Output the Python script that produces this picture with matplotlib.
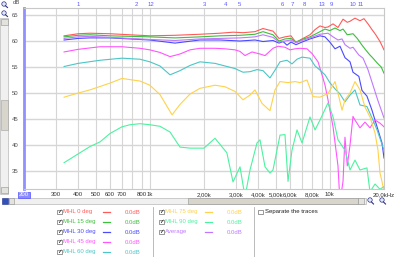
import matplotlib.pyplot as plt
from matplotlib.patches import Rectangle, Circle
from matplotlib.transforms import blended_transform_factory

# ---- measured traces (frequency in Hz, level in dB) ----
f_0 = [334, 400, 465, 600, 776, 1000, 1380, 1900, 2454, 2900, 3300, 3840, 4254, 4834, 5220, 5636,
       6086, 6300, 6488, 7008, 7760, 8280, 8820, 9400, 9770, 10420, 11100, 11840, 12500, 12950,
       13800, 14710, 15480, 16300, 17150, 18000, 19000, 20000]
db_0 = [61.0, 61.4, 61.5, 61.4, 61.2, 61.0, 61.1, 61.3, 61.5, 61.7, 61.6, 61.8, 62.4, 61.9, 60.5, 60.8,
        61.0, 60.3, 59.7, 60.4, 61.2, 62.2, 62.9, 62.6, 62.7, 63.3, 62.6, 64.2, 63.6, 63.8,
        64.4, 63.9, 64.3, 63.3, 62.2, 61.2, 59.9, 58.3]

f_15 = [334, 400, 465, 600, 776, 1000, 1380, 1900, 2454, 3170, 3840, 4254, 4834, 5220, 5636, 6086,
        6488, 7008, 7760, 8820, 9400, 10000, 10690, 11390, 11840, 12500, 13450, 14200, 15100, 15900,
        16720, 17370, 18300, 19300, 20000]
db_15 = [60.8, 61.1, 61.2, 61.0, 60.9, 60.8, 60.6, 60.8, 61.0, 61.1, 61.3, 61.8, 61.2, 60.0, 60.4, 60.5,
         59.8, 60.3, 60.8, 61.8, 62.3, 62.0, 62.5, 62.0, 62.3, 61.2, 61.4, 60.5, 59.2, 58.2,
         57.3, 56.7, 55.8, 55.0, 53.8]

f_30 = [334, 400, 465, 600, 776, 1000, 1380, 1900, 2454, 3170, 3840, 4254, 4834, 5220, 5500, 5782,
        6086, 6488, 7008, 7760, 8820, 9400, 10000, 10690, 11390, 12140, 12950, 13450, 14500, 15090,
        16080, 17150, 18300, 19490, 20000]
db_30 = [60.2, 60.5, 60.6, 60.6, 60.4, 60.2, 59.6, 60.2, 60.2, 60.0, 60.2, 59.9, 60.1, 59.6, 59.9, 59.2,
         59.8, 59.3, 59.8, 60.4, 61.0, 60.8, 59.8, 58.5, 59.0, 56.8, 56.0, 54.0, 53.2, 50.5,
         49.4, 46.7, 43.5, 40.4, 37.5]

f_45 = [334, 400, 529, 700, 882, 1000, 1139, 1295, 1471, 1672, 1900, 2302, 2617, 2974, 3170, 3380,
        3696, 4094, 4366, 4834, 5154, 5636, 6008, 6406, 6830, 7470, 7960, 8600, 9050, 9404,
        9770, 10420, 11100, 11390, 11840, 12140, 12500, 12950, 13450, 13800, 14710, 15680, 16720,
        17830, 19000, 20000]
db_45 = [57.9, 58.4, 58.9, 58.9, 58.6, 58.3, 57.8, 57.0, 57.5, 58.3, 58.6, 58.6, 58.5, 58.3, 58.0, 57.2,
         57.9, 57.5, 57.2, 58.6, 59.0, 58.8, 58.3, 58.5, 58.6, 58.5, 57.6, 56.0, 53.5, 51.5,
         48.7, 43.5, 36.0, 29.0, 33.0, 41.5, 36.0, 40.0, 45.5, 44.8, 43.3, 44.4, 43.3,
         44.8, 44.2, 43.5]

f_60 = [334, 400, 529, 700, 882, 1000, 1139, 1295, 1471, 1672, 1900, 2302, 2617, 2974, 3294, 3602,
        3940, 4254, 4652, 4960, 5288, 5782, 6164, 6572, 7008, 7760, 8280, 8820, 9404, 10000,
        10690, 11390, 12140, 12950, 13800, 14710, 16080, 17370, 18300, 20000]
db_60 = [55.1, 55.7, 56.3, 56.7, 56.5, 56.0, 55.2, 53.5, 54.3, 55.3, 56.0, 55.7, 55.2, 54.7, 54.0, 54.1,
         54.5, 54.3, 52.9, 54.4, 56.0, 56.3, 55.6, 56.5, 56.9, 56.7, 55.2, 54.4, 53.5, 52.0,
         50.8, 49.8, 48.3, 49.6, 50.6, 47.7, 47.4, 44.8, 42.9, 39.0]

f_75 = [334, 400, 465, 600, 700, 882, 1000, 1139, 1329, 1471, 1672, 1900, 2302, 2617, 2974, 3294,
        3602, 3840, 4200, 4652, 4960, 5288, 5858, 6406, 6830, 7470, 8066, 8820, 9770, 10690,
        11100, 11690, 12140, 12950, 13800, 14710, 15680, 16720, 17830, 18520, 19000, 19490, 20000]
db_75 = [49.2, 50.0, 50.6, 51.9, 52.8, 52.3, 51.5, 49.7, 45.8, 47.8, 49.8, 50.9, 51.5, 51.2, 50.3, 48.7,
         49.6, 50.6, 48.0, 46.6, 50.6, 52.2, 52.0, 52.2, 52.0, 52.5, 49.3, 49.2, 49.9, 52.2,
         50.0, 46.7, 48.7, 50.0, 52.2, 50.6, 47.3, 45.4, 42.3, 39.0, 34.6, 33.0, 31.0]

f_90 = [334, 360, 400, 465, 529, 600, 700, 776, 882, 1000, 1139, 1295, 1471, 1672, 2000, 2302,
        2680, 2898, 3170, 3380, 3602, 3940, 4094, 4366, 4652, 4834, 5288, 5636, 5858, 6164,
        6572, 7008, 7760, 8280, 8820, 9770, 10420, 11100, 12140, 12950, 13800, 14710, 16080,
        16720, 17830, 19000, 20000]
db_90 = [36.6, 37.3, 38.3, 39.7, 40.6, 42.2, 43.5, 43.9, 44.1, 43.9, 43.6, 42.5, 39.6, 39.4, 39.4, 41.3,
         38.5, 32.9, 35.8, 30.0, 35.2, 40.4, 41.0, 35.8, 34.6, 35.2, 41.9, 42.0, 33.0, 39.0,
         42.9, 40.4, 45.4, 42.9, 44.8, 48.1, 45.4, 41.0, 39.0, 35.2, 37.1, 35.2, 35.6,
         31.0, 32.5, 31.5, 32.0]

f_avg = [334, 400, 465, 600, 776, 1000, 1380, 1900, 2454, 3170, 3840, 4254, 4834, 5220, 5636, 6086,
         6488, 7008, 7760, 8820, 9770, 10420, 11100, 11690, 12140, 12950, 13450, 14500, 15300,
         16290, 17370, 18520, 20000]
db_avg = [60.5, 60.8, 60.9, 60.7, 60.5, 60.3, 60.1, 60.4, 60.5, 60.6, 60.8, 61.2, 60.7, 59.8, 60.0, 60.2,
          59.7, 60.1, 60.6, 61.3, 61.5, 60.8, 60.2, 60.4, 59.3, 58.6, 58.8, 57.3, 56.7,
          54.5, 51.5, 48.5, 45.2]

trace_names = ["MHL 0 deg", "MHL 15 deg", "MHL 30 deg", "MHL 45 deg", "MHL 60 deg",
               "MHL 75 deg", "MHL 90 deg", "Average"]
trace_colors = ["#ff5a5a", "#3cbf3c", "#4a4aff", "#ff55ff", "#4cc6c6",
                "#ffd24a", "#4cf2a0", "#c078ff"]
trace_data = [(f_0, db_0), (f_15, db_15), (f_30, db_30), (f_45, db_45), (f_60, db_60),
              (f_75, db_75), (f_90, db_90), (f_avg, db_avg)]
trace_offsets = ["0.0dB"] * 8

# x axis labels (the program prints "800" on the 900 Hz line)
xlabel_pos = [200, 300, 400, 500, 600, 700, 900, 1000, 2000, 3000, 4000, 5000, 6000, 8000, 10000, 20000]
xlabel_txt = ["200", "300", "400", "500", "600", "700", "800", "1k", "2,00k", "3,00k", "4,00k",
              "5,00k", "6,00k", "8,00k", "10k", "20,0kHz"]
yticks = [35, 40, 45, 50, 55, 60, 65]

# numbered markers along the top
marker_freq = [400, 838, 1015, 2000, 2650, 3130, 5420, 6160, 7190, 9040, 10150, 13460, 14900]
marker_txt = ["1", "2", "12", "3", "4", "5", "6", "7", "8", "13", "9", "10", "11"]

grid_freqs = [300, 400, 500, 600, 700, 800, 900, 1000, 2000, 3000, 4000, 5000, 6000, 7000,
              8000, 9000, 10000]

FS = 4.3
plt.rcParams['font.family'] = ['Liberation Sans', 'DejaVu Sans']

fig = plt.figure(figsize=(4, 2.57), dpi=100)
fig.patch.set_facecolor("white")

# ---- window chrome in pixel coordinates ----
ui = fig.add_axes([0, 0, 1, 1], zorder=0)
ui.set_xlim(0, 400)
ui.set_ylim(257, 0)
ui.axis("off")

# left vertical scrollbar + zoom icons
ui.add_patch(Rectangle((0, 18), 8, 176, fc="#f0f0f0", ec="#b8b8b8", lw=0.5))
ui.add_patch(Rectangle((0.5, 19), 7, 6, fc="#e4e2dc", ec="#909090", lw=0.4))
ui.add_patch(Rectangle((0.5, 100), 7, 30, fc="#d8d5cc", ec="#a0a0a0", lw=0.4))
ui.add_patch(Rectangle((0.5, 187), 7, 6, fc="#e4e2dc", ec="#909090", lw=0.4))
for cy in [4, 13]:
    ui.add_patch(Circle((4, cy), 2.2, fc="#dfe8ff", ec="#303080", lw=0.5))
    ui.plot([5.5, 7.5], [cy + 1.8, cy + 3.5], color="#303080", lw=0.8)

# bottom horizontal scrollbar
ui.add_patch(Rectangle((2, 198), 6, 6, fc="#3050c0", ec="#203080", lw=0.4))
ui.add_patch(Rectangle((9, 198), 357, 6, fc="#f0f0f0", ec="#b8b8b8", lw=0.5))
ui.add_patch(Rectangle((9, 198), 5, 6, fc="#e4e2dc", ec="#909090", lw=0.4))
ui.add_patch(Rectangle((188, 198), 170, 6, fc="#d8d5cc", ec="#909090", lw=0.4))
ui.add_patch(Rectangle((358, 198), 6, 6, fc="#e4e2dc", ec="#909090", lw=0.4))
for cx in [370, 382]:
    ui.add_patch(Circle((cx, 200), 2.2, fc="#dfe8ff", ec="#303080", lw=0.5))
    ui.plot([cx + 1.5, cx + 3.5], [202, 204], color="#303080", lw=0.8)

# legend panel separators
ui.plot([153, 153], [207, 257], color="#b0b0b0", lw=0.6)
ui.plot([254, 254], [207, 257], color="#b0b0b0", lw=0.6)


def checkbox(x, y, checked=True):
    ui.add_patch(Rectangle((x, y - 2.4), 4.8, 4.8, fc="white", ec="#707070", lw=0.5))
    if checked:
        ui.text(x + 2.4, y, "\u2713", fontsize=4, ha="center", va="center",
                color="black", family="DejaVu Sans")


row_y = [212, 222, 232, 242, 252]
for i, (name, col, off) in enumerate(zip(trace_names, trace_colors, trace_offsets)):
    if i < 5:
        x0, y = 57, row_y[i]
    else:
        x0, y = 159, row_y[i - 5]
    checkbox(x0, y)
    ui.text(x0 + 6, y, name, fontsize=FS, color=col, va="center", ha="left")
    ui.plot([x0 + 46, x0 + 53], [y, y], color=col, lw=0.9)
    ui.text(x0 + 68, y, off, fontsize=FS, color=col, va="center", ha="left")

checkbox(258, row_y[0], checked=False)
ui.text(265, row_y[0], "Separate the traces", fontsize=FS, color="#202020", va="center", ha="left")
ui.text(20, 3, "dB", fontsize=FS, color="#505050", ha="right", va="center")

# ---- main response plot ----
ax = fig.add_axes([24 / 400, (257 - 189) / 257, 360 / 400, 181 / 257], zorder=2)
ax.set_xscale("log")
ax.set_xlim(200, 20000)
ax.set_ylim(31.54, 66.35)

for g in grid_freqs:
    ax.axvline(g, color="#d6d6d6", lw=0.8, zorder=0)
for yv in yticks:
    ax.axhline(yv, color="#d6d6d6", lw=1.0, zorder=0)

for (fx, dy), col in zip(trace_data, trace_colors):
    ax.plot(fx, dy, color=col, lw=0.8, zorder=3)

ax.set_yticks(yticks)
ax.set_yticklabels([str(v) for v in yticks], fontsize=FS, color="#505050")
ax.set_xticks(xlabel_pos)
ax.set_xticklabels(xlabel_txt, fontsize=FS, color="#303030")
ax.minorticks_off()
ax.tick_params(length=0, pad=2.5)
ax.tick_params(axis="y", pad=4)
first = ax.get_xticklabels()[0]
first.set_color("white")
first.set_bbox(dict(fc="#8c8cff", ec="#5050ff", lw=0.5, pad=0.6))

for side in ["top", "right", "bottom"]:
    ax.spines[side].set_color("#c8c8c8")
    ax.spines[side].set_linewidth(0.8)
ax.spines["left"].set_color("#9090ff")
ax.spines["left"].set_linewidth(2.0)

tr = blended_transform_factory(ax.transData, ax.transAxes)
for fm, tm in zip(marker_freq, marker_txt):
    ax.text(fm, 1.017, tm, transform=tr, fontsize=FS, color="#5a5aff",
            ha="center", va="center", clip_on=False)

fig.savefig("out.png", dpi=100)
